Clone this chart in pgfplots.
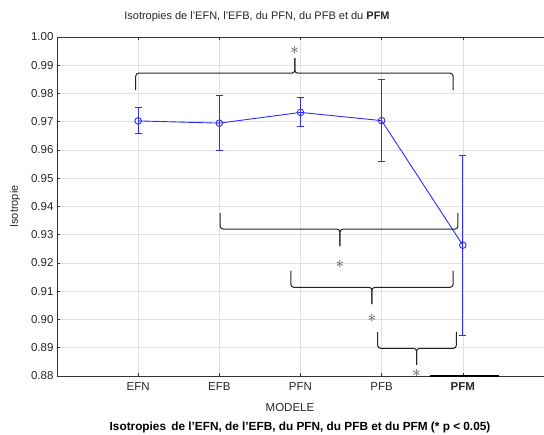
\documentclass[border=0pt]{standalone}
\usepackage{pgfplots}
\pgfplotsset{compat=1.18}
\usepackage{fontspec}
\setmainfont{Liberation Sans}

\definecolor{plotblue}{RGB}{45,45,245}
\definecolor{bracegray}{RGB}{35,35,35}

% brace: x left, x right, x middle, y tips, y bar, y point
\newcommand{\sigbrace}[6]{%
  \draw[bracegray, line width=1pt, rounded corners=3pt]
    (axis cs:#1,#4) -- (axis cs:#1,#5) -- (axis cs:#3,#5) -- (axis cs:#3,#6);
  \draw[bracegray, line width=1pt, rounded corners=3pt]
    (axis cs:#2,#4) -- (axis cs:#2,#5) -- (axis cs:#3,#5) -- (axis cs:#3,#6);
}
\newcommand{\sigstar}[2]{\node[text=black!70] at (axis cs:#1,#2) {\fontsize{18}{18}\selectfont$\ast$};}

\pgfplotstableread{
x y ep em
1 0.9703 0.0046 0.0046
2 0.9695 0.0097 0.0095
3 0.9733 0.0052 0.0050
4 0.9704 0.0146 0.0144
5 0.9263 0.0319 0.0318
}\isodata

\begin{document}
\begin{tikzpicture}
\useasboundingbox (-57pt,-59pt) rectangle (487pt,376pt);
\begin{axis}[
    scale only axis,
    width=487pt, height=339pt,
    xmin=0, xmax=6,
    ymin=0.88, ymax=1.00,
    axis y line*=left,
    axis line style={black!80, line width=0.8pt},
    xtick={1,...,5},
    xticklabels={EFN,EFB,PFN,PFB,\textbf{PFM}},
    ytick distance=0.01,
    tick align=inside,
    major tick length=3pt,
    tick style={black!80, line width=0.6pt},
    grid=major,
    grid style={black!12, line width=0.5pt},
    ticklabel style={font=\fontsize{11.5}{13}\selectfont, text=black!85},
    xticklabel style={yshift=-3pt},
    /pgf/number format/fixed,
    /pgf/number format/fixed zerofill,
    /pgf/number format/precision=2,
    /pgf/number format/assume math mode=true,
    clip=false,
]
\addplot[plotblue, line width=0.9pt, mark=o, mark size=3.3pt,
    error bars/.cd, y dir=both, y explicit,
    error bar style={plotblue, line width=0.9pt},
    error mark options={rotate=90, mark size=3.5pt, line width=0.9pt, plotblue}]
  table[x=x, y=y, y error plus=ep, y error minus=em] {\isodata};

\sigbrace{0.97}{4.88}{2.93}{0.9812}{0.9872}{0.9925}
\sigstar{2.93}{0.9952}
\sigbrace{2.01}{4.94}{3.485}{0.9377}{0.9320}{0.9260}
\sigstar{3.485}{0.9195}
\sigbrace{2.88}{4.88}{3.88}{0.9173}{0.9114}{0.9054}
\sigstar{3.88}{0.9005}
\sigbrace{3.95}{4.92}{4.43}{0.8956}{0.8898}{0.8839}
\sigstar{4.43}{0.8810}

\draw[black, line width=1.6pt] (axis cs:4.6,0.88) -- (axis cs:5.44,0.88);
\end{axis}
\node[text=black!85] at (200pt,359pt) {\fontsize{11}{12}\selectfont Isotropies de l'EFN, l'EFB, du PFN, du PFB et du \textbf{PFM}};
\node[text=black!85, rotate=90] at (-42pt,169.5pt) {\fontsize{11}{12}\selectfont Isotropie};
\node[text=black!85] at (233pt,-32pt) {\fontsize{11.5}{13}\selectfont MODELE};
\node at (243pt,-51pt) {\fontsize{11.8}{13}\selectfont\bfseries Isotropies\, de l’EFN, de l’EFB, du PFN, du PFB et du PFM (* p < 0.05)};
\end{tikzpicture}
\end{document}
